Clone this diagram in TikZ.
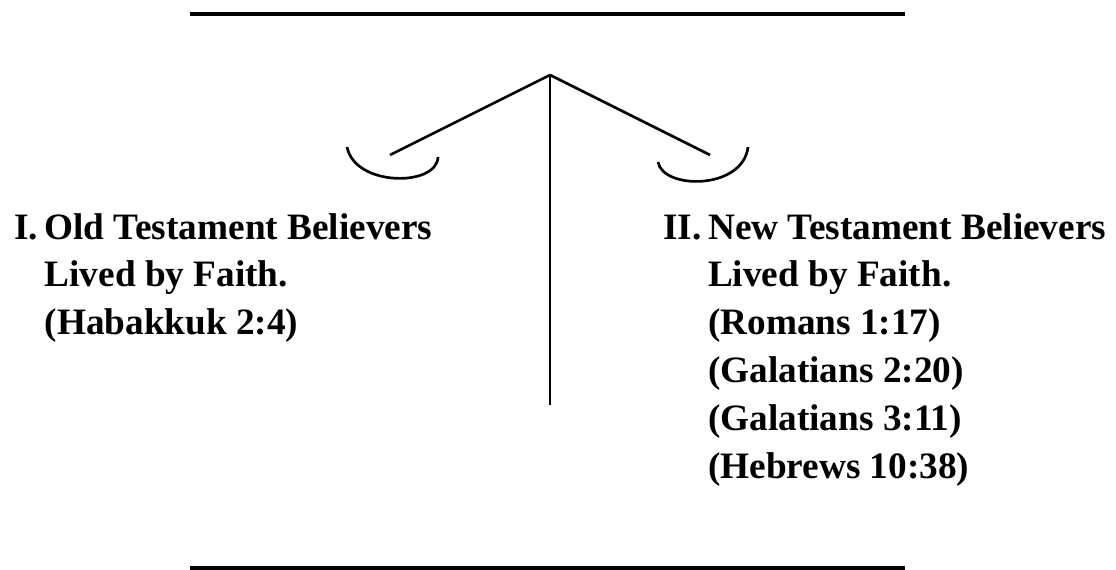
\documentclass[tikz,border=0pt]{standalone}
\usepackage{fontspec}
\setmainfont{Liberation Serif}
\begin{document}
\begin{tikzpicture}[x=0.025cm,y=-0.025cm,line width=1.9pt,
  verse/.style={anchor=base west,inner sep=0pt,font=\bfseries\fontsize{26.5}{34}\selectfont}]
  \useasboundingbox (0,0) rectangle (1116,570);
  \path (190,14) coordinate (TL) (905,14) coordinate (TR) (190,568) coordinate (BL) (905,568) coordinate (BR);
  \path (550,75) coordinate (P) (550,405) coordinate (F) (390,155) coordinate (L) (710,155) coordinate (R);
  \path (347,147) coordinate (L1) (438,157) coordinate (L2) (658,162) coordinate (R1) (748,147) coordinate (R2);
  \draw[line width=2.4pt] (TL)--(TR);
  \draw[line width=2.4pt] (BL)--(BR);
  \draw (P)--(F);
  \draw (P)--(L);
  \draw (P)--(R);
  \draw (L1) .. controls (355,187) and (437,187) .. (L2);
  \draw (R1) .. controls (663,190) and (743,190) .. (R2);
  \node[verse] (old) at (13,239) {\begin{tabular}[t]{@{}l@{\hspace{4.6pt}}l@{}}I. & Old Testament Believers\\ & Lived by Faith.\\ & (Habakkuk 2:4)\end{tabular}};
  \node[verse] (new) at (662,239) {\begin{tabular}[t]{@{}l@{\hspace{4.6pt}}l@{}}II. & New Testament Believers\\ & Lived by Faith.\\ & (Romans 1:17)\\ & (Galatians 2:20)\\ & (Galatians 3:11)\\ & (Hebrews 10:38)\end{tabular}};
\end{tikzpicture}
\end{document}
